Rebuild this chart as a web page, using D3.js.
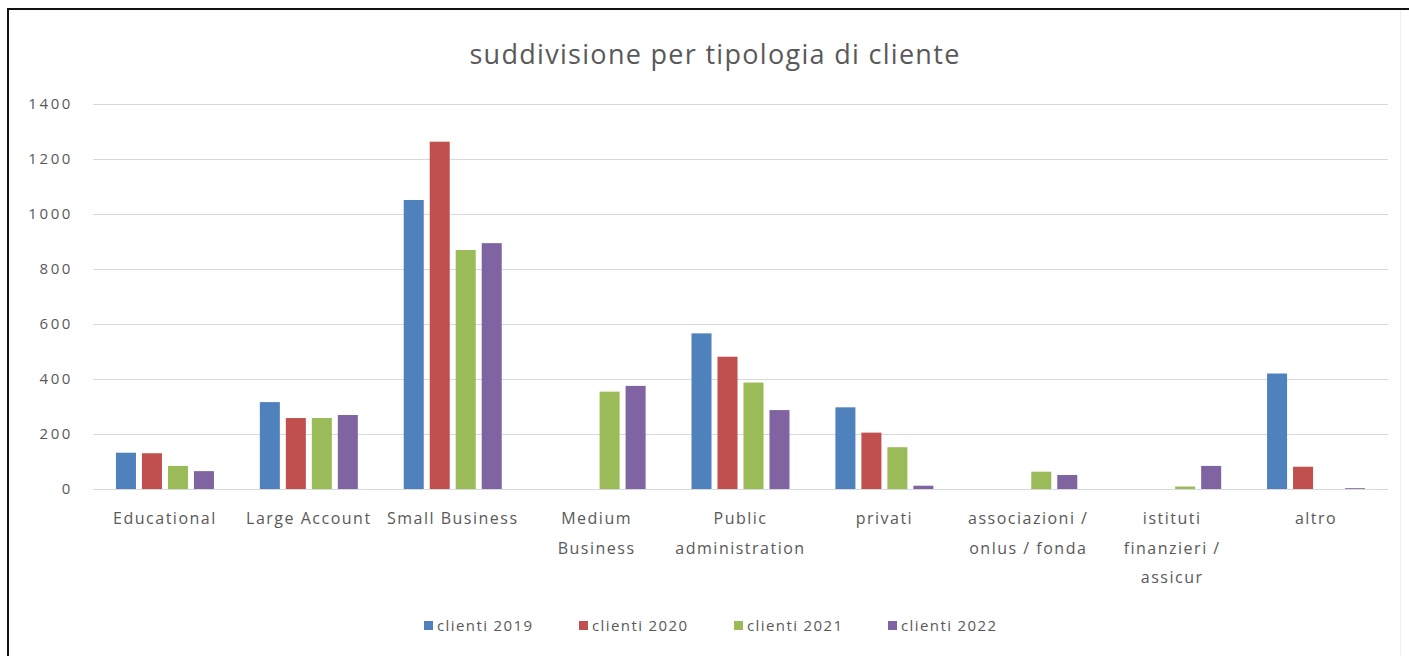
<!DOCTYPE html>
<html>
<head>
<meta charset="utf-8">
<script src="https://cdn.jsdelivr.net/npm/d3@7"></script>
<style>
  body { margin: 0; background: #fff; }
  text { font-family: "Open Sans", "Liberation Sans", sans-serif; fill: #595959; }
</style>
</head>
<body>
<svg id="chart" width="1409" height="656"></svg>
<script>
// categories and how their labels wrap
var categories = ["Educational", "Large Account", "Small Business", "Medium Business",
  "Public administration", "privati", "associazioni / onlus / fonda",
  "istituti finanzieri / assicur", "altro"];
var categoryLines = [["Educational"], ["Large Account"], ["Small Business"], ["Medium", "Business"],
  ["Public", "administration"], ["privati"], ["associazioni /", "onlus / fonda"],
  ["istituti", "finanzieri /", "assicur"], ["altro"]];

var seriesNames = ["clienti 2019", "clienti 2020", "clienti 2021", "clienti 2022"];
var clienti2019 = [132, 316, 1051, 0, 566, 297, 0, 0, 420];
var clienti2020 = [130, 258, 1263, 0, 481, 205, 0, 0, 81];
var clienti2021 = [84, 258, 869, 354, 387, 152, 63, 9, 0];
var clienti2022 = [65, 269, 894, 375, 287, 12, 51, 84, 3];
var yTicks = [0, 200, 400, 600, 800, 1000, 1200, 1400];

var colors = ["#4F81BD", "#C0504D", "#9BBB59", "#8064A2"];
var seriesValues = [clienti2019, clienti2020, clienti2021, clienti2022];

var svg = d3.select("#chart");

// outer frame (top and left dark edge, faint right edge)
svg.append("line").attr("x1", 8).attr("x2", 1409).attr("y1", 9).attr("y2", 9)
  .attr("stroke", "#111").attr("stroke-width", 2);
svg.append("line").attr("x1", 8).attr("x2", 8).attr("y1", 8).attr("y2", 656)
  .attr("stroke", "#111").attr("stroke-width", 2);
svg.append("line").attr("x1", 1400.5).attr("x2", 1400.5).attr("y1", 10).attr("y2", 656)
  .attr("stroke", "#eee").attr("stroke-width", 1);

// title
svg.append("text")
  .attr("x", 715).attr("y", 64)
  .attr("text-anchor", "middle")
  .style("font-size", "27px")
  .style("letter-spacing", "1.3px")
  .text("suddivisione per tipologia di cliente");

var x0 = d3.scaleBand().domain(categories).range([93, 1388]);
var x1 = d3.scaleBand().domain(seriesNames).range([0, 98]).paddingInner(0.23);
var groupOffset = (x0.bandwidth() - 98) / 2;
var y = d3.scaleLinear().domain([0, 1400]).range([489, 104]);

// gridlines
svg.append("g").selectAll("line")
  .data(yTicks).enter().append("line")
  .attr("x1", 93).attr("x2", 1388)
  .attr("y1", function (d) { return Math.round(y(d)) + 0.5; })
  .attr("y2", function (d) { return Math.round(y(d)) + 0.5; })
  .attr("stroke", "#d9d9d9").attr("stroke-width", 1);

// y axis labels
var yAxis = d3.axisLeft(y).tickValues(yTicks).tickFormat(d3.format("d")).tickSize(0).tickPadding(0);
var yg = svg.append("g").attr("transform", "translate(73,0)").call(yAxis);
yg.select(".domain").remove();
yg.selectAll("text")
  .style("font-size", "15px")
  .style("letter-spacing", "2.6px")
  .style("font-family", "'Open Sans', sans-serif")
  .attr("fill", "#595959");

// bars
var groups = svg.append("g").selectAll("g")
  .data(categories).enter().append("g")
  .attr("transform", function (d) { return "translate(" + (x0(d) + groupOffset) + ",0)"; });

groups.selectAll("rect")
  .data(function (d, i) {
    return seriesNames.map(function (s, j) { return { series: s, value: seriesValues[j][i], color: colors[j] }; });
  })
  .enter().append("rect")
  .attr("x", function (d) { return x1(d.series); })
  .attr("width", x1.bandwidth())
  .attr("y", function (d) { return y(d.value); })
  .attr("height", function (d) { return y(0) - y(d.value); })
  .attr("fill", function (d) { return d.color; });

// category labels
var labels = svg.append("g").selectAll("text")
  .data(categories).enter().append("text")
  .attr("text-anchor", "middle")
  .style("font-size", "16px")
  .style("letter-spacing", "1.5px")
  .attr("transform", function (d) { return "translate(" + (x0(d) + x0.bandwidth() / 2) + ",524)"; });

labels.selectAll("tspan")
  .data(function (d, i) { return categoryLines[i]; })
  .enter().append("tspan")
  .attr("x", 0)
  .attr("dy", function (d, i) { return i === 0 ? 0 : 29.5; })
  .text(function (d) { return d; });

// legend
var legendX = [424, 579, 734, 888];
var legend = svg.append("g").selectAll("g")
  .data(seriesNames).enter().append("g")
  .attr("transform", function (d, i) { return "translate(" + legendX[i] + ",622)"; });

legend.append("rect")
  .attr("width", 9).attr("height", 9).attr("y", -1)
  .attr("fill", function (d, i) { return colors[i]; });

legend.append("text")
  .attr("x", 13).attr("y", 9)
  .style("font-size", "15px")
  .style("letter-spacing", "1.4px")
  .text(function (d) { return d; });
</script>
</body>
</html>
